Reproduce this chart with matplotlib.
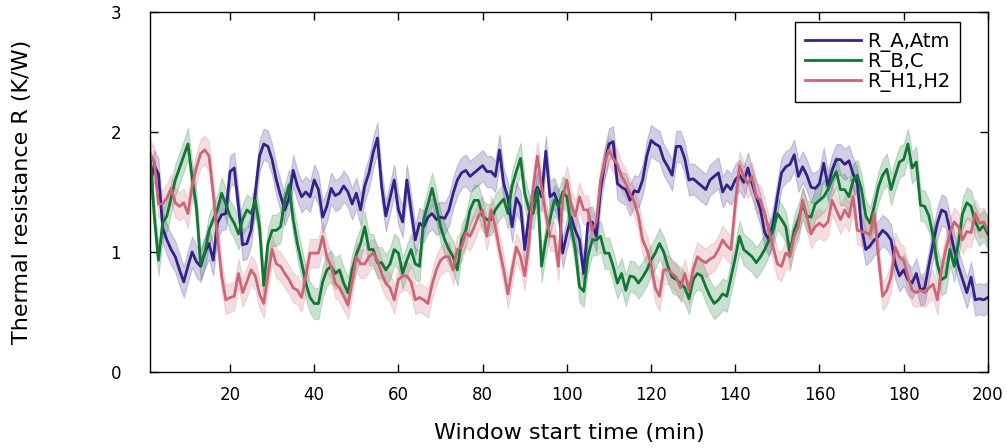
import numpy as np
import matplotlib
matplotlib.use("Agg")
import matplotlib.pyplot as plt

minutes = np.arange(1, 201)

r_a_atm = [
    1.57, 1.72, 1.65, 1.20, 1.10, 1.02, 0.96, 0.85, 0.75, 0.88,
    1.00, 0.92, 0.88, 0.99, 1.07, 0.93, 1.24, 1.31, 1.32, 1.67,
    1.70, 1.38, 1.06, 1.07, 1.18, 1.49, 1.80, 1.90, 1.88, 1.77,
    1.60, 1.47, 1.35, 1.45, 1.68, 1.55, 1.46, 1.50, 1.46, 1.60,
    1.52, 1.29, 1.38, 1.53, 1.47, 1.49, 1.55, 1.50, 1.40, 1.49,
    1.35, 1.55, 1.66, 1.83, 1.95, 1.55, 1.30, 1.45, 1.60, 1.35,
    1.25, 1.60, 1.35, 1.10, 1.24, 1.21, 1.29, 1.32, 1.27, 1.29,
    1.28, 1.35, 1.49, 1.60, 1.66, 1.68, 1.63, 1.66, 1.69, 1.72,
    1.67, 1.67, 1.63, 1.85, 1.57, 1.45, 1.21, 1.45, 1.38, 1.02,
    1.30, 1.45, 1.54, 1.46, 1.84, 1.46, 1.49, 1.40, 0.99, 1.15,
    1.29, 1.18, 1.10, 0.82, 1.24, 1.25, 1.13, 1.52, 1.74, 1.90,
    1.92, 1.57, 1.54, 1.52, 1.43, 1.51, 1.50, 1.60, 1.80, 1.93,
    1.90, 1.88, 1.77, 1.71, 1.64, 1.88, 1.88, 1.78, 1.60, 1.61,
    1.58, 1.55, 1.52, 1.60, 1.63, 1.66, 1.50, 1.56, 1.52, 1.60,
    1.64, 1.58, 1.70, 1.57, 1.46, 1.35, 1.16, 1.10, 1.24, 1.46,
    1.66, 1.71, 1.73, 1.81, 1.63, 1.71, 1.64, 1.54, 1.53, 1.57,
    1.74, 1.55, 1.68, 1.77, 1.77, 1.73, 1.76, 1.65, 1.57, 1.20,
    1.02, 1.05, 1.10, 1.13, 1.18, 1.15, 1.10, 0.90, 0.80, 0.85,
    0.77, 0.74, 0.82, 0.68, 0.70, 0.89, 1.07, 1.24, 1.35, 1.33,
    1.18, 1.02, 0.88, 0.77, 0.66, 0.79, 0.60, 0.61, 0.60, 0.62,
]

r_b_c = [
    1.80, 1.30, 0.93, 1.24, 1.30, 1.45, 1.60, 1.70, 1.80, 1.90,
    1.62, 1.38, 0.90, 0.99, 1.18, 1.27, 1.35, 1.49, 1.40, 1.30,
    1.24, 1.15, 1.27, 1.35, 1.32, 1.43, 1.21, 0.72, 1.07, 1.18,
    1.18, 1.21, 1.43, 1.56, 1.27, 1.07, 0.91, 0.74, 0.62, 0.57,
    0.57, 0.75, 0.85, 0.88, 0.82, 0.85, 0.74, 0.66, 0.85, 0.98,
    1.07, 1.21, 1.02, 1.02, 0.91, 0.91, 0.85, 0.90, 1.02, 0.99,
    0.82, 0.93, 1.02, 0.90, 0.88, 1.27, 1.40, 1.53, 1.38, 1.21,
    1.10, 1.02, 0.96, 0.85, 1.10, 1.18, 1.35, 1.43, 1.43, 1.30,
    1.27, 1.27, 1.35, 1.40, 1.44, 1.32, 1.55, 1.67, 1.78, 1.49,
    1.35, 1.32, 1.52, 0.88, 1.10, 1.27, 1.43, 1.38, 1.50, 1.46,
    1.21, 1.02, 0.71, 0.67, 0.96, 1.10, 1.10, 1.13, 0.99, 0.99,
    0.88, 0.74, 0.82, 0.68, 0.80, 0.79, 0.74, 0.79, 0.85, 0.93,
    0.99, 1.07, 1.00, 0.88, 0.79, 0.77, 0.74, 0.70, 0.61, 0.77,
    0.82, 0.80, 0.71, 0.63, 0.57, 0.60, 0.65, 0.63, 0.79, 0.95,
    1.13, 1.02, 0.99, 0.96, 0.91, 0.96, 1.02, 1.10, 1.18, 1.32,
    1.27, 1.21, 0.99, 1.18, 1.27, 1.40, 1.30, 1.29, 1.40, 1.43,
    1.46, 1.52, 1.60, 1.67, 1.52, 1.52, 1.46, 1.60, 1.64, 1.52,
    1.30, 1.24, 1.38, 1.54, 1.64, 1.69, 1.52, 1.64, 1.75, 1.77,
    1.90, 1.70, 1.75, 1.39, 1.38, 1.30, 1.13, 0.90, 0.77, 0.79,
    1.02, 0.88, 1.07, 1.32, 1.41, 1.38, 1.25, 1.18, 1.22, 1.15,
]

r_h1_h2 = [
    1.82, 1.75, 1.40, 1.40, 1.45, 1.53, 1.41, 1.38, 1.41, 1.32,
    1.55, 1.70, 1.82, 1.85, 1.80, 1.49, 1.13, 0.80, 0.60, 0.62,
    0.63, 0.82, 0.66, 0.75, 0.85, 0.80, 0.65, 0.57, 0.80, 1.02,
    0.90, 0.88, 0.82, 0.77, 0.70, 0.68, 0.62, 0.80, 0.99, 0.99,
    0.99, 1.13, 0.96, 0.88, 0.74, 0.70, 0.63, 0.56, 0.75, 0.96,
    0.90, 0.90, 0.96, 0.99, 0.93, 0.82, 0.74, 0.70, 0.60, 0.77,
    0.80, 0.80, 0.75, 0.60, 0.62, 0.60, 0.57, 0.73, 0.85, 0.93,
    0.96, 0.96, 0.85, 1.02, 1.04, 1.16, 1.13, 1.21, 1.30, 1.35,
    1.13, 1.35, 1.21, 1.02, 0.85, 0.65, 0.85, 1.04, 0.96, 0.80,
    1.07, 1.54, 1.80, 1.54, 1.32, 1.13, 1.13, 0.88, 1.45, 1.60,
    1.40, 1.30, 1.46, 1.35, 1.35, 1.18, 1.25, 1.60, 1.75, 1.85,
    1.78, 1.73, 1.63, 1.57, 1.49, 1.42, 1.30, 1.10, 1.02, 0.90,
    0.70, 0.63, 0.85, 0.85, 0.82, 0.79, 0.70, 0.82, 0.68, 0.85,
    0.96, 0.93, 0.91, 0.94, 0.96, 1.02, 1.10, 1.05, 1.02, 1.40,
    1.72, 1.63, 1.57, 1.63, 1.46, 1.43, 1.32, 1.18, 1.04, 0.90,
    0.88, 0.99, 0.96, 1.13, 1.21, 1.43, 1.30, 1.15, 1.21, 1.24,
    1.21, 1.25, 1.43, 1.35, 1.27, 1.35, 1.29, 1.46, 1.18, 1.17,
    1.16, 1.15, 1.32, 0.96, 0.63, 0.68, 0.79, 1.04, 0.96, 0.93,
    0.80, 0.68, 0.66, 0.68, 0.66, 0.70, 0.73, 0.60, 0.85, 1.02,
    1.16, 1.25, 1.21, 1.10, 1.17, 1.16, 1.32, 1.24, 1.25, 1.18,
]

labels = ["R_A,Atm", "R_B,C", "R_H1,H2"]
colors = ["#332288", "#117733", "#CC6677"]
band_half = [0.13, 0.13, 0.12]
x_ticks = [20, 40, 60, 80, 100, 120, 140, 160, 180, 200]
y_ticks = [0, 1, 2, 3]

fig = plt.figure(figsize=(10.07, 4.48), dpi=100)
ax = fig.add_axes([0.149, 0.170, 0.832, 0.803])

for vals, lab, col, hw in zip([r_a_atm, r_b_c, r_h1_h2], labels, colors, band_half):
    v = np.array(vals)
    ax.fill_between(minutes, v - hw, v + hw, facecolor=col, alpha=0.22,
                    edgecolor=col, linewidth=0.8)
    ax.plot(minutes, v, color=col, lw=2.0, label=lab)

ax.set_xlim(1, 200)
ax.set_ylim(0, 3)
ax.set_xticks(x_ticks)
ax.set_yticks(y_ticks)
ax.tick_params(direction="in", top=True, right=True, length=6, width=1,
               labelsize=12)
ax.tick_params(axis="x", pad=10)
ax.tick_params(axis="y", pad=21)
for s in ax.spines.values():
    s.set_linewidth(1.0)

ax.set_xlabel("Window start time (min)", fontsize=16)
ax.set_ylabel("Thermal resistance R (K/W)", fontsize=16)
ax.xaxis.set_label_coords(0.5, -0.17, transform=ax.transAxes)
ax.yaxis.set_label_coords(-0.153, 0.5, transform=ax.transAxes)
ax.xaxis.label.set_va("center")
ax.yaxis.label.set_va("center")

leg = ax.legend(loc="upper right", bbox_to_anchor=(0.9666, 0.972), fontsize=14,
                frameon=True, fancybox=False, framealpha=1, edgecolor="black",
                handlelength=2.9, borderpad=0.5, labelspacing=0.0,
                handletextpad=0.3, borderaxespad=0.0)
leg.get_frame().set_linewidth(1.0)

fig.savefig("out.png", dpi=100)
